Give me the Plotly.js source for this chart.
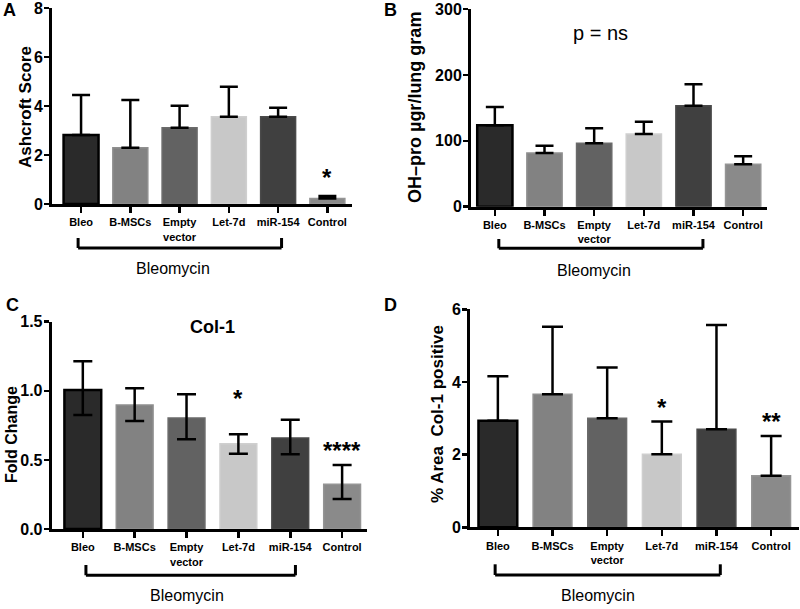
<!DOCTYPE html>
<html>
<head>
<meta charset="utf-8">
<script src="https://cdn.plot.ly/plotly-3.0.1.min.js"></script>
<style>html,body{margin:0;padding:0;background:#fff;}#chart{width:800px;height:609px;}</style>
</head>
<body>
<div id="chart"></div>
<script>
// ---- data ----
const categories = ['Bleo', 'B-MSCs', 'Empty vector', 'Let-7d', 'miR-154', 'Control'];
const tickLabels = ['Bleo', 'B-MSCs', 'Empty<br>vector', 'Let-7d', 'miR-154', 'Control'];
const ashcroftScore = [2.82, 2.30, 3.11, 3.56, 3.56, 0.22];
const ashcroftErr = [1.63, 1.94, 0.90, 1.23, 0.37, 0.11];
const ohProline = [123.5, 81.5, 96.2, 110.3, 153.3, 64.3];
const ohProlineErr = [27.8, 11.1, 22.8, 18.7, 32.4, 12.2];
const col1Fold = [1.006, 0.897, 0.803, 0.617, 0.658, 0.323];
const col1FoldErrUp = [0.207, 0.121, 0.172, 0.068, 0.133, 0.140];
const col1FoldErrDown = [0.181, 0.116, 0.154, 0.072, 0.118, 0.106];
const col1Area = [2.93, 3.66, 3.00, 2.01, 2.70, 1.42];
const col1AreaErr = [1.23, 1.86, 1.40, 0.90, 2.87, 1.09];

// ---- styling ----
const W = 800, H = 609;
const FONT = 'Arial, "Liberation Sans", Helvetica, sans-serif';
const barColors = ['#2a2a2a', '#828282', '#626262', '#c8c8c8', '#404040', '#8a8a8a'];
const barLines = ['#000000', '#8f8f8f', '#6a6a6a', '#cfcfcf', '#4a4a4a', '#959595'];
const idx = categories.map((c, i) => i);
const zeros = categories.map(() => 0);

function px2x(p) { return p / W; }
function px2y(p) { return 1 - p / H; }

function barTrace(vals, errPlus, errMinus, xa, ya, capHalf) {
  return {
    type: 'bar', x: idx, y: vals, xaxis: xa, yaxis: ya,
    width: 0.71,
    marker: {
      color: barColors,
      line: { color: barLines, width: [2.5, 1.5, 1.5, 1.5, 1.5, 1.5] }
    },
    error_y: {
      type: 'data', symmetric: false, array: errPlus, arrayminus: errMinus,
      color: '#000', thickness: 2.5, width: capHalf, visible: true
    },
    hoverinfo: 'x+y', showlegend: false
  };
}

const data = [
  barTrace(ashcroftScore, ashcroftErr, zeros, 'x', 'y', 9),
  barTrace(ohProline, ohProlineErr, zeros, 'x2', 'y2', 9),
  barTrace(col1Fold, col1FoldErrUp, col1FoldErrDown, 'x3', 'y3', 9.5),
  barTrace(col1Area, col1AreaErr, zeros, 'x4', 'y4', 10.5)
];

function xAxis(dom, range, anchor) {
  return {
    domain: dom, range: range, anchor: anchor,
    tickmode: 'array', tickvals: idx, ticktext: tickLabels,
    tickfont: { family: FONT, size: 11, color: '#000', weight: 'bold' },
    showline: true, linecolor: '#000', linewidth: 3,
    ticks: 'outside', ticklen: 6, tickwidth: 2.5, tickcolor: '#000',
    showgrid: false, zeroline: false, fixedrange: true
  };
}
function yAxis(dom, range, dtick, anchor, tformat) {
  return {
    domain: dom, range: range, anchor: anchor, dtick: dtick, tick0: 0,
    tickformat: tformat || '',
    ticklabeloverflow: 'allow', ticklabelstandoff: -2,
    tickfont: { family: FONT, size: 16, color: '#000', weight: 'bold' },
    showline: true, linecolor: '#000', linewidth: 3,
    ticks: 'outside', ticklen: 5, tickwidth: 2.5, tickcolor: '#000',
    showgrid: false, zeroline: false, fixedrange: true
  };
}

// panel pixel boxes [left, right, top, bottom]
const boxA = [52, 352, 8, 204];
const boxB = [471, 767, 9, 206.7];
const boxC = [51.7, 367, 321.7, 529];
const boxD = [470, 799, 309.3, 527.3];
const dx = b => [px2x(b[0]), px2x(b[1])];
const dy = b => [px2y(b[3]), px2y(b[2])];

function bracket(xref, x0, x1, yBot, yTop) {
  const base = { xref: xref, yref: 'paper', line: { color: '#000', width: 3 } };
  return [
    Object.assign({ type: 'line', x0: x0, x1: x1, y0: px2y(yBot), y1: px2y(yBot) }, base),
    Object.assign({ type: 'line', x0: x0, x1: x0, y0: px2y(yBot), y1: px2y(yTop) }, base),
    Object.assign({ type: 'line', x0: x1, x1: x1, y0: px2y(yBot), y1: px2y(yTop) }, base)
  ];
}

const shapes = [].concat(
  bracket('x', -0.06, 4.07, 248, 238),
  bracket('x2', 0.08, 4.19, 248.3, 239),
  bracket('x3', 0.06, 4.1, 575.3, 565),
  bracket('x4', -0.05, 4.07, 575, 564.3)
);

function txt(text, x, y, xref, yref, size, bold, extra) {
  return Object.assign({
    text: text, x: x, y: y, xref: xref, yref: yref, showarrow: false,
    xanchor: 'center', yanchor: 'middle',
    font: { family: FONT, size: size, color: '#000', weight: bold ? 'bold' : 'normal' }
  }, extra || {});
}
const vert = { textangle: -90 };

const annotations = [
  txt('A', px2x(9), px2y(10), 'paper', 'paper', 18, true),
  txt('B', px2x(390), px2y(10), 'paper', 'paper', 18, true),
  txt('C', px2x(12), px2y(305), 'paper', 'paper', 18, true),
  txt('D', px2x(390), px2y(305), 'paper', 'paper', 18, true),
  // y-axis titles
  txt('Ashcroft Score', px2x(25), px2y(107), 'paper', 'paper', 17, true, vert),
  txt('OH\u2013pro \u00b5gr/lung gram', px2x(415), px2y(108), 'paper', 'paper', 18, true, vert),
  txt('Fold Change', px2x(11), px2y(435), 'paper', 'paper', 16, true, vert),
  txt('% Area\u00a0 Col-1 positive', px2x(438), px2y(414), 'paper', 'paper', 17, true, vert),
  // group labels
  txt('Bleomycin', px2x(173), px2y(268), 'paper', 'paper', 16, false),
  txt('Bleomycin', px2x(594), px2y(270), 'paper', 'paper', 16, false),
  txt('Bleomycin', px2x(187), px2y(595), 'paper', 'paper', 16, false),
  txt('Bleomycin', px2x(598), px2y(595), 'paper', 'paper', 16, false),
  txt('p = ns', px2x(600), px2y(33), 'paper', 'paper', 20, false),
  txt('Col-1', px2x(212), px2y(327), 'paper', 'paper', 18, true),
  // significance marks
  txt('*', 5, 1.1, 'x', 'y', 24, true),
  txt('*', 3, 0.945, 'x3', 'y3', 24, true),
  txt('****', 5, 0.57, 'x3', 'y3', 24, true),
  txt('*', 3, 3.29, 'x4', 'y4', 24, true),
  txt('**', 5, 2.92, 'x4', 'y4', 24, true)
];

const layout = {
  width: W, height: H,
  margin: { l: 0, r: 0, t: 0, b: 0 },
  paper_bgcolor: '#fff', plot_bgcolor: 'rgba(0,0,0,0)',
  showlegend: false, barmode: 'group',
  xaxis: xAxis(dx(boxA), [-0.59, 5.5], 'y'),
  yaxis: yAxis(dy(boxA), [0, 8], 2, 'x'),
  xaxis2: xAxis(dx(boxB), [-0.48, 5.48], 'y2'),
  yaxis2: yAxis(dy(boxB), [0, 300], 100, 'x2'),
  xaxis3: xAxis(dx(boxC), [-0.6, 5.48], 'y3'),
  yaxis3: yAxis(dy(boxC), [0, 1.5], 0.5, 'x3', '.1f'),
  xaxis4: xAxis(dx(boxD), [-0.51, 5.51], 'y4'),
  yaxis4: yAxis(dy(boxD), [0, 6], 2, 'x4'),
  shapes: shapes,
  annotations: annotations
};

Plotly.newPlot('chart', data, layout, { displayModeBar: false, staticPlot: true });
</script>
</body>
</html>
